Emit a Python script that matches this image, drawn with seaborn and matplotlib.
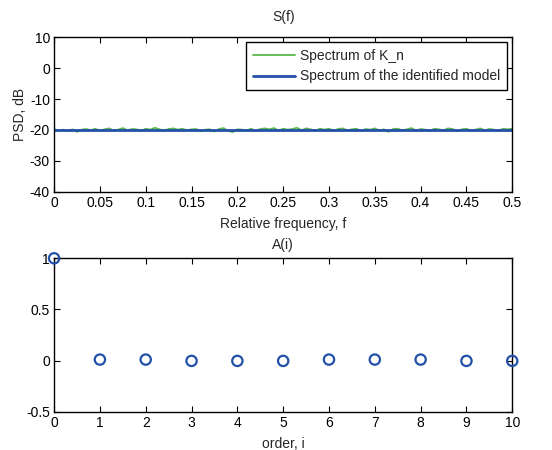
import numpy as np
import pandas as pd
import seaborn as sns
import matplotlib.pyplot as plt

sns.set_style("ticks")
plt.rcParams['font.family'] = ['Liberation Sans', 'DejaVu Sans']
plt.rcParams['axes.unicode_minus'] = False

# spectrum of K_n (dB), evenly spaced over 0..0.5
psd_kn = [-19.7, -20.2, -19.9, -20.4, -19.8, -20.6, -19.9, -19.7, -20.1, -19.6,
          -20.3, -19.8, -19.5, -20.2, -19.9, -19.4, -20.1, -19.7, -19.8, -20.3,
          -19.6, -19.9, -19.3, -19.8, -20.2, -19.7, -19.5, -19.9, -19.6, -20.1,
          -19.8, -19.7, -20.4, -19.9, -19.8, -20.5, -19.7, -19.4, -20.3, -20.7,
          -19.8, -19.9, -20.2, -19.6, -20.3, -19.7, -19.5, -19.8, -19.4, -20.2,
          -19.6, -19.9, -19.7, -19.3, -20.1, -19.5, -19.8, -20.3, -19.6, -19.9,
          -19.6, -20.2, -19.7, -19.5, -20.1, -19.8, -19.6, -20.4, -19.7, -19.9,
          -19.5, -20.2, -19.8, -20.6, -19.7, -19.6, -20.1, -19.8, -19.4, -20.2,
          -19.7, -19.9, -20.3, -19.6, -19.8, -20.1, -19.5, -19.7, -20.4, -19.8,
          -19.6, -20.2, -19.9, -19.5, -20.1, -19.7, -19.9, -20.3, -19.6, -19.8,
          -19.6]
freq = np.linspace(0, 0.5, len(psd_kn))
model_freq = [0.0, 0.5]
psd_model = [-20.0, -20.0]

order = list(range(11))
a_coef = [1.0, 0.01, 0.01, -0.003, -0.003, -0.003, 0.01, 0.01, 0.01, -0.003, -0.003]

green = "#5cb947"
blue = "#2351a8"

fig = plt.figure(figsize=(5.52, 4.5), dpi=100)
ax1 = fig.add_axes([0.098, 0.574, 0.830, 0.343])
ax2 = fig.add_axes([0.098, 0.085, 0.830, 0.341])

df1 = pd.DataFrame({"f": freq, "psd": psd_kn})
df2 = pd.DataFrame({"f": model_freq, "psd": psd_model})
sns.lineplot(data=df1, x="f", y="psd", ax=ax1, color=green, lw=1.3, label="Spectrum of K_n")
sns.lineplot(data=df2, x="f", y="psd", ax=ax1, color=blue, lw=2, label="Spectrum of the identified model")
ax1.set_xlim(0, 0.5)
ax1.set_ylim(-40, 10)
ax1.set_xticks(np.arange(0, 0.501, 0.05))
ax1.set_xticklabels(["0", "0.05", "0.1", "0.15", "0.2", "0.25", "0.3", "0.35", "0.4", "0.45", "0.5"])
ax1.set_yticks([-40, -30, -20, -10, 0, 10])
ax1.set_title("S(f)", fontsize=10, pad=12)
ax1.set_xlabel("Relative frequency, f", fontsize=10, labelpad=5)
ax1.set_ylabel("PSD, dB", fontsize=10, labelpad=2)
leg = ax1.legend(loc="upper right", fontsize=10, frameon=True, fancybox=False,
                 edgecolor="black", framealpha=1, borderaxespad=0.35,
                 handlelength=3, handletextpad=0.4, labelspacing=0.45, borderpad=0.5)
leg.get_frame().set_linewidth(1.0)

df3 = pd.DataFrame({"i": order, "a": a_coef})
sns.scatterplot(data=df3, x="i", y="a", ax=ax2, marker="o", s=55,
                facecolors="none", edgecolor=blue, linewidth=1.6, clip_on=False, zorder=5)
ax2.set_xlim(0, 10)
ax2.set_ylim(-0.5, 1)
ax2.set_xticks(order)
ax2.set_yticks([-0.5, 0, 0.5, 1])
ax2.set_yticklabels(["-0.5", "0", "0.5", "1"])
ax2.set_title("A(i)", fontsize=10, pad=7)
ax2.set_xlabel("order, i", fontsize=10, labelpad=5)
ax2.set_ylabel("")

for ax in (ax1, ax2):
    for s in ax.spines.values():
        s.set_visible(True)
        s.set_color("black")
        s.set_linewidth(1.0)
    ax.tick_params(direction="in", top=True, right=True, length=4, width=0.8,
                   labelsize=10, colors="black", pad=3)
    ax.grid(False)

fig.savefig("out.png", dpi=100, facecolor="white")
